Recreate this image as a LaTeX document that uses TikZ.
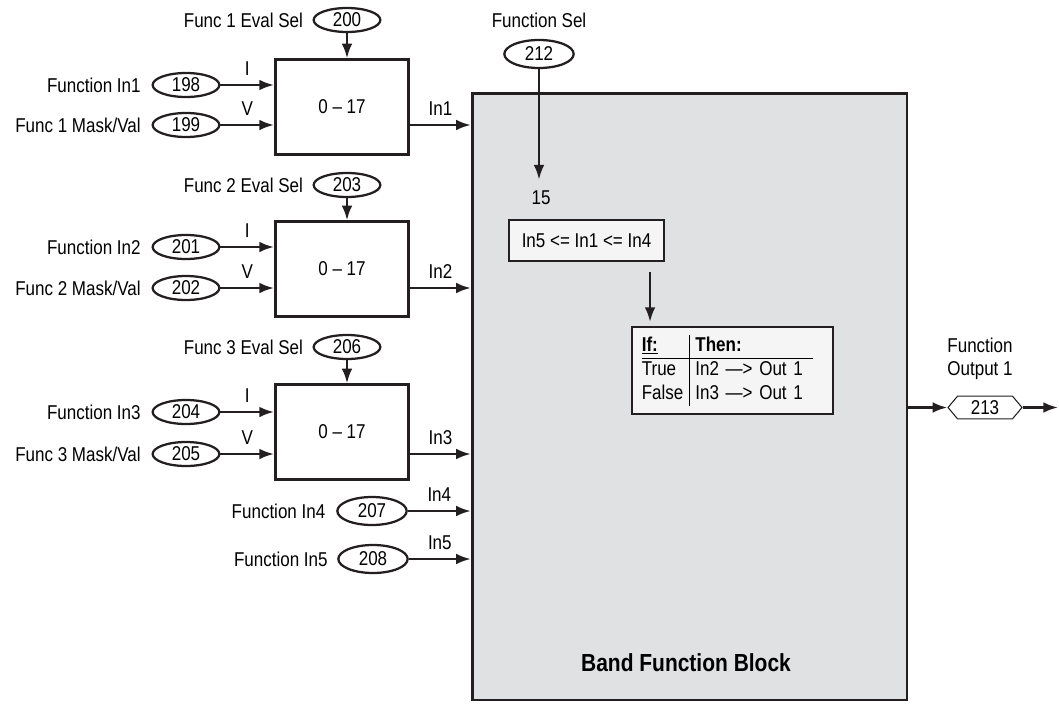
\documentclass[tikz,border=0pt]{standalone}
\usepackage{fontspec}
\setmainfont{Liberation Sans}[FakeStretch=0.85]
\usetikzlibrary{positioning, shapes.geometric, shapes.symbols, arrows.meta}
\definecolor{ink}{RGB}{35,31,32}
\definecolor{bandgray}{RGB}{224,225,227}
\definecolor{cellfill}{RGB}{245,245,246}

\begin{document}
\begin{tikzpicture}[x=0.75pt, y=-0.75pt, font=\fontsize{15}{17.5}\selectfont,
      blk/.style={draw=ink, line width=2pt, minimum width=100pt, minimum height=71pt},
      sig/.style={draw=ink, ellipse, line width=1.7pt, inner sep=0pt,
                  minimum width=50pt, minimum height=18pt},
      bigsig/.style={sig, minimum width=52pt, minimum height=21pt},
      lbl/.style={inner sep=0pt},
      cell/.style={draw=ink, line width=1.8pt, fill=cellfill},
      arr/.style={-{Latex[length=11pt,width=8pt]}, line width=1.8pt, draw=ink}]

    \useasboundingbox (0,0) rectangle (1059,703);

    % band function block
    \node[draw=ink, line width=2pt, fill=bandgray, minimum width=326pt,
          minimum height=455pt] (band) at (689.5,396.5) {};
    \node[font=\fontsize{18.5}{22}\selectfont\bfseries] (title) at (686,663) {Band Function Block};

    % evaluation blocks
    \node[blk] (b1) at (342,107) {0 – 17};
    \node[blk] (b2) at (342,269) {0 – 17};
    \node[blk] (b3) at (342,432) {0 – 17};

    % parameters of block 1
    \node[sig] (p200) at (347,20)  {200};
    \node[sig] (p198) at (186,85)  {198};
    \node[sig] (p199) at (186,125) {199};
    \node[lbl, left=7pt of p200] (l200) {Func 1 Eval Sel};
    \node[lbl, left=8pt of p198] (l198) {Function In1};
    \node[lbl, left=8pt of p199] (l199) {Func 1 Mask/Val};

    % parameters of block 2
    \node[sig] (p203) at (347,185) {203};
    \node[sig] (p201) at (186,247) {201};
    \node[sig] (p202) at (186,288) {202};
    \node[lbl, left=7pt of p203] (l203) {Func 2 Eval Sel};
    \node[lbl, left=8pt of p201] (l201) {Function In2};
    \node[lbl, left=8pt of p202] (l202) {Func 2 Mask/Val};

    % parameters of block 3
    \node[sig] (p206) at (347,347) {206};
    \node[sig] (p204) at (186,412) {204};
    \node[sig] (p205) at (186,454) {205};
    \node[lbl, left=7pt of p206] (l206) {Func 3 Eval Sel};
    \node[lbl, left=8pt of p204] (l204) {Function In3};
    \node[lbl, left=8pt of p205] (l205) {Func 3 Mask/Val};

    % direct inputs
    \node[bigsig] (p207) at (372,511) {207};
    \node[bigsig] (p208) at (373,559) {208};
    \node[lbl, left=8pt of p207] (l207) {Function In4};
    \node[lbl, left=7pt of p208] (l208) {Function In5};

    \draw[arr] (p200) -- (p200 |- b1.north);
    \draw[arr] (p198) -- (p198 -| b1.west) node[midway, above=3pt] {I};
    \draw[arr] (p199) -- (p199 -| b1.west) node[midway, above=3pt] {V};
    \draw[arr] (b1.east |- p199) -- (band.west |- p199) node[midway, above=3pt] {In1};

    \draw[arr] (p203) -- (p203 |- b2.north);
    \draw[arr] (p201) -- (p201 -| b2.west) node[midway, above=3pt] {I};
    \draw[arr] (p202) -- (p202 -| b2.west) node[midway, above=3pt] {V};
    \draw[arr] (b2.east |- p202) -- (band.west |- p202) node[midway, above=3pt] {In2};

    \draw[arr] (p206) -- (p206 |- b3.north);
    \draw[arr] (p204) -- (p204 -| b3.west) node[midway, above=3pt] {I};
    \draw[arr] (p205) -- (p205 -| b3.west) node[midway, above=3pt] {V};
    \draw[arr] (b3.east |- p205) -- (band.west |- p205) node[midway, above=3pt] {In3};

    \draw[arr] (p207) -- (p207 -| band.west) node[midway, above=3pt] {In4};
    \draw[arr] (p208) -- (p208 -| band.west) node[midway, above=3pt] {In5};

    % function select and logic
    \node[bigsig] (p212) at (539,54) {212};
    \node[lbl, above=8pt of p212] (l212) {Function Sel};
    \node (n15) at (541,198) {15};
    \draw[arr, shorten >=5pt] (p212) -- (p212 |- n15.north);

    \node[cell, minimum width=116pt, minimum height=31pt] (cnd) at (586.5,240.5) {In5 <= In1 <= In4};
    \node[cell, minimum height=65pt, text width=136pt, inner xsep=7.5pt, align=left]
      (tbl) at (732.5,370.5)
      {\setlength\tabcolsep{4.5pt}\setlength\arrayrulewidth{0.9pt}%
       \begin{tabular}{@{}l|l@{\hspace{8pt}}}
         \textbf{\underline{If:}} & \textbf{Then:}\\\hline
         True  & In2 —> Out 1\\
         False & In3 —> Out 1
       \end{tabular}};
    \draw[arr, shorten <=7pt, shorten >=3pt]
      ([xshift=-11.25pt]cnd.south east) -- ([xshift=-11.25pt]cnd.south east |- tbl.north);

    % output
    \node[draw=ink, line width=0.8pt, signal, signal to=west and east, signal pointer angle=100,
          minimum width=55.5pt, minimum height=17pt, inner sep=0pt] (o213) at (985,407.5) {213};
    \node[lbl, align=center] (l213) at (980,359) {Function\\Output 1};
    \coordinate (out) at (1058,407.5);
    \draw[arr] (band.east |- o213) -- (o213.west);
    \draw[arr] (o213.east) -- (out);
  \end{tikzpicture}
\end{document}
